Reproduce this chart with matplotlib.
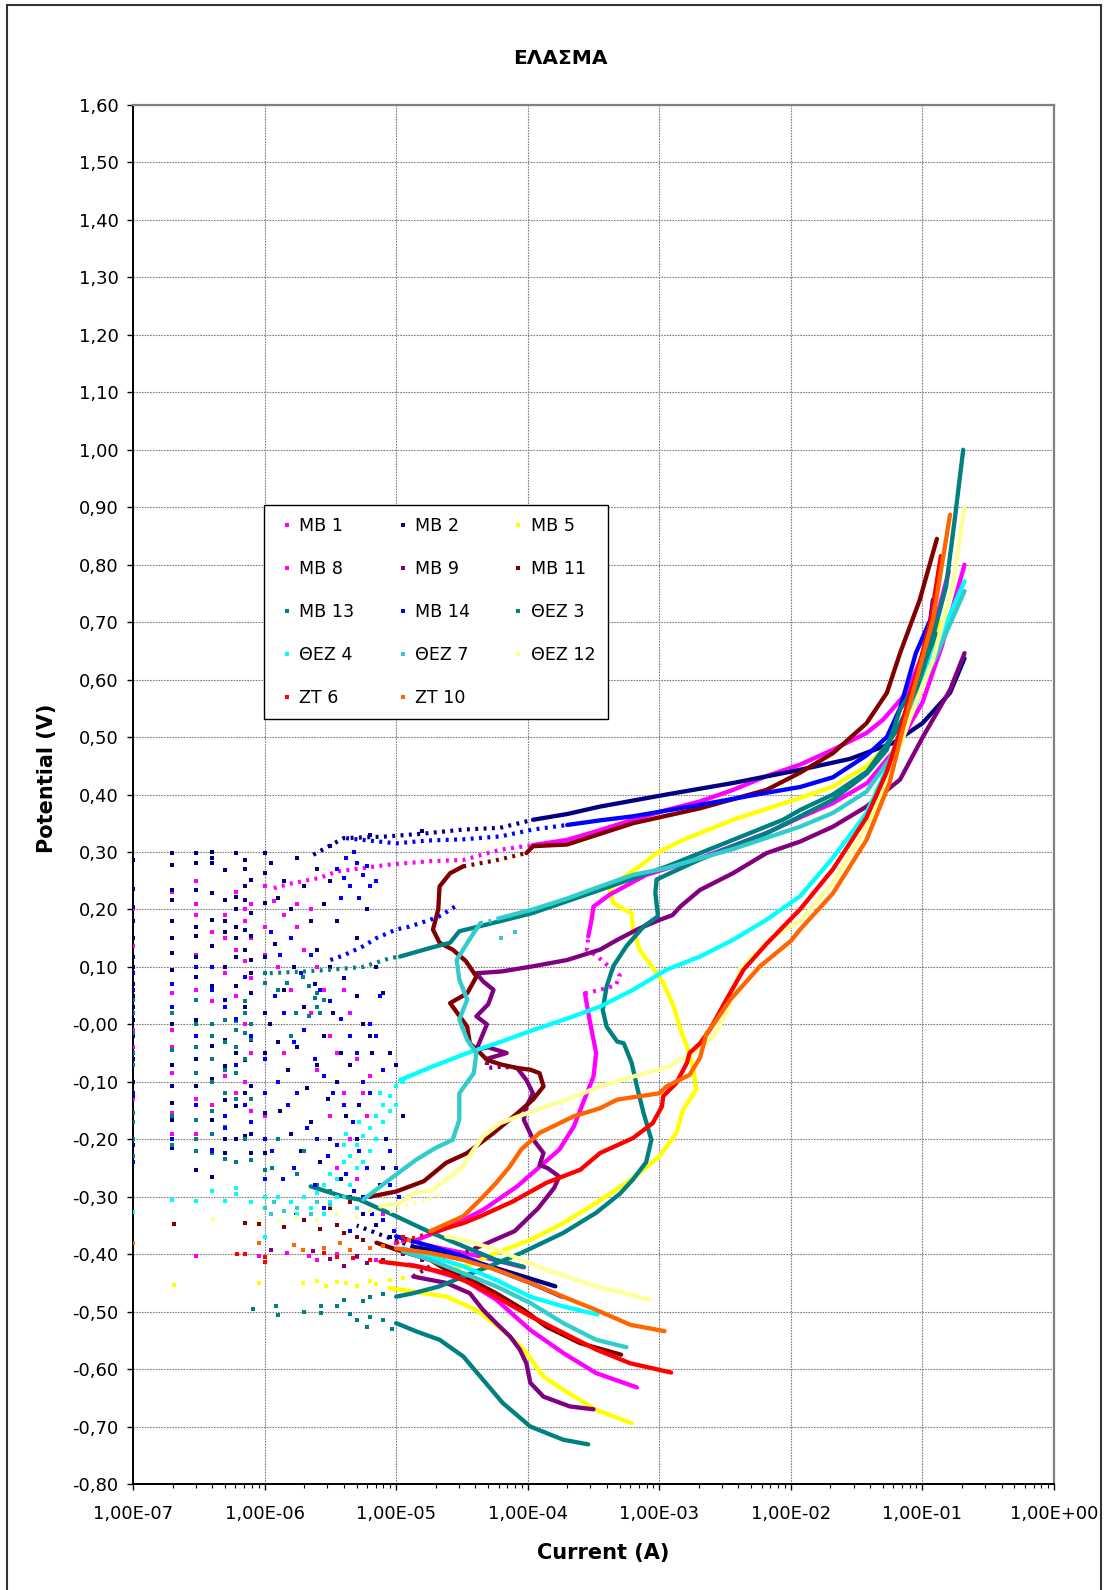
import numpy as np
import matplotlib
matplotlib.use("Agg")
import matplotlib.pyplot as plt
from matplotlib.lines import Line2D
from matplotlib.patches import Rectangle
from matplotlib.ticker import FixedLocator, FuncFormatter, LogLocator, NullFormatter

plt.rcParams["font.family"] = ["DejaVu Sans"]
plt.rcParams["axes.unicode_minus"] = False

TITLE = "ΕΛΑΣΜΑ"
X_LABEL = "Current (A)"
Y_LABEL = "Potential (V)"

# Points are (log10 of current in A, potential in V); None breaks a trace.

# ---------------- MB 1 ----------------
MB1_LINE = [(-4.03, -0.423), (-4.36, -0.404), (-4.74, -0.386), None,
            (-3.96, 0.312), (-3.70, 0.321), (-3.45, 0.338), (-3.20, 0.356), (-2.945, 0.373),
            (-2.69, 0.388), (-2.44, 0.408), (-2.185, 0.432), (-1.93, 0.452), (-1.68, 0.478),
            (-1.425, 0.507), (-1.30, 0.530), (-1.12, 0.577), (-0.97, 0.658), (-0.87, 0.727),
            (-0.80, 0.788)]
MB1_TRAIL = [(-4.74, -0.386), (-4.90, -0.378), (-5.05, -0.370), None,
             (-5.93, 0.237), (-5.80, 0.245), (-5.58, 0.255), (-5.45, 0.266), (-5.25, 0.272),
             (-5.05, 0.278), (-4.74, 0.284), (-4.49, 0.286), (-4.21, 0.304), (-3.96, 0.312)]
MB1_COLS = [(-7.0, [0.20, 0.136, 0.09, -0.01, -0.04, -0.13]),
            (-6.7, [0.23, 0.054, 0.02, -0.01, -0.04, -0.085, -0.155, -0.19]),
            (-6.52, [0.25, 0.21, 0.19, 0.12, 0.06, -0.06, -0.13, -0.19]),
            (-6.4, [0.16, 0.10, 0.04, -0.02, -0.10, -0.14]),
            (-6.3, [0.19, 0.15, 0.09, 0.03, -0.03, -0.09, -0.16]),
            (-6.22, [0.23, 0.17, 0.13, 0.05, -0.07, -0.12, -0.20]),
            (-6.15, [0.20, 0.18, 0.11, 0.0, -0.10]),
            (-6.1, [0.21, 0.15, 0.08, -0.05, -0.15]),
            (-6.0, [0.24, 0.17, 0.12, 0.02, -0.06, -0.12, -0.16])]
MB1_DOTS = [(-5.93, 0.215), (-5.85, 0.19), (-5.75, 0.17), (-5.70, 0.13), (-5.60, 0.10),
            (-5.55, 0.06), (-5.65, 0.02), (-5.50, -0.02), (-5.45, -0.05), (-5.60, -0.08),
            (-5.40, -0.12), (-5.50, -0.16), (-5.35, -0.20), (-5.45, -0.25), (-5.30, -0.27),
            (-5.20, -0.30), (-5.10, -0.33), (-5.80, 0.06), (-5.90, 0.10), (-5.85, -0.05),
            (-5.25, -0.12), (-5.20, -0.09), (-5.30, -0.06), (-5.75, 0.21), (-5.65, 0.20),
            (-5.15, -0.20), (-5.10, -0.25), (-5.22, -0.16), (-5.35, 0.02), (-5.40, 0.06)]

# ---------------- MB 2 ----------------
MB2_LINE = [(-3.79, -0.456), (-4.03, -0.439), (-4.36, -0.416), (-4.62, -0.398), (-4.87, -0.387), None,
            (-3.96, 0.356), (-3.70, 0.366), (-3.45, 0.379), (-2.945, 0.400), (-2.44, 0.420),
            (-1.93, 0.443), (-1.55, 0.462), (-1.22, 0.490), (-1.00, 0.524), (-0.79, 0.577),
            (-0.68, 0.637)]
MB2_TRAIL = [(-4.87, -0.387), (-5.12, -0.366), (-5.30, -0.350), None,
             (-5.63, 0.295), (-5.40, 0.324), (-5.07, 0.327), (-4.79, 0.332), (-4.49, 0.339),
             (-4.21, 0.342), (-3.96, 0.356)]
MB2_COLS = [(-7.0, [0.286, 0.235, 0.205, 0.18, 0.15, 0.118, 0.10, 0.07, 0.05, 0.03, 0.008,
                    -0.02, -0.06, -0.10, -0.125, -0.17, -0.21]),
            (-6.7, [0.298, 0.278, 0.234, 0.217, 0.18, 0.15, 0.124, 0.095, 0.07, 0.03, 0.0,
                    -0.044, -0.07, -0.108, -0.137, -0.166, -0.215]),
            (-6.52, [0.298, 0.28, 0.234, 0.17, 0.153, 0.118, 0.083, 0.043, 0.008, -0.06, -0.085,
                     -0.108, -0.166, -0.253]),
            (-6.4, [0.30, 0.29, 0.28, 0.228, 0.182, 0.136, 0.066, -0.038, -0.096, -0.166, -0.218, -0.265]),
            (-6.3, [0.269, 0.217, 0.18, 0.16, 0.10, 0.043, -0.027, -0.073, -0.131, -0.20, -0.224]),
            (-6.22, [0.298, 0.222, 0.20, 0.17, 0.15, 0.118, 0.066, 0.008, -0.05, -0.085, -0.143, -0.20]),
            (-6.15, [0.286, 0.27, 0.24, 0.217, 0.165, 0.13, 0.031, -0.062, -0.12, -0.195]),
            (-6.1, [0.252, 0.194, 0.153, 0.112, 0.089, 0.054, -0.027, -0.108, -0.19, -0.224]),
            (-6.0, [0.298, 0.263, 0.211, 0.118, 0.02, -0.05, -0.12, -0.155, -0.224, -0.253])]
MB2_DOTS = [(-5.95, 0.28), (-5.90, 0.22), (-5.85, 0.25), (-5.80, 0.20), (-5.75, 0.29), (-5.70, 0.24),
            (-5.65, 0.18), (-5.60, 0.13), (-5.55, 0.21), (-5.50, 0.10), (-5.92, 0.14), (-5.85, 0.06),
            (-5.78, 0.10), (-5.70, 0.03), (-5.62, 0.07), (-5.55, -0.02), (-5.48, 0.02), (-5.42, -0.05),
            (-5.90, -0.03), (-5.82, -0.08), (-5.75, -0.04), (-5.68, -0.11), (-5.60, -0.07), (-5.52, -0.13),
            (-5.45, -0.10), (-5.38, -0.16), (-5.30, -0.20), (-5.88, -0.15), (-5.80, -0.19), (-5.72, -0.22),
            (-5.65, -0.17), (-5.58, -0.24), (-5.50, -0.20), (-5.42, -0.27), (-5.35, -0.30), (-5.25, -0.33),
            (-5.15, -0.35), (-5.05, -0.37), (-5.96, 0.0), (-5.60, 0.27), (-5.50, 0.25), (-5.45, 0.18),
            (-5.10, 0.054), (-5.05, -0.05), (-5.00, -0.07), (-4.95, -0.16), (-5.10, -0.25), (-5.25, 0.0),
            (-5.30, 0.05), (-4.80, 0.336), (-5.20, 0.33), (-5.50, 0.31),
            (-5.20, -0.02), (-5.15, 0.10), (-5.08, -0.20), (-5.30, 0.15), (-5.22, 0.20), (-5.40, 0.08),
            (-5.12, -0.28), (-5.35, -0.07), (-5.28, -0.14), (-5.18, -0.05)]

# ---------------- MB 5 ----------------
MB5_LINE = [(-3.21, -0.694), (-3.48, -0.671), (-3.73, -0.636), (-3.88, -0.613), (-4.03, -0.566),
            (-4.19, -0.532), (-4.39, -0.497), (-4.62, -0.474), (-4.87, -0.465), (-5.05, -0.459), None,
            (-4.67, -0.433), (-4.44, -0.418), (-4.24, -0.398), (-3.98, -0.375), (-3.73, -0.346),
            (-3.48, -0.311), (-3.22, -0.271), (-3.00, -0.230), (-2.87, -0.189), (-2.82, -0.149),
            (-2.72, -0.114), (-2.74, -0.079), (-2.79, -0.038), (-2.84, -0.009), (-2.89, 0.031),
            (-2.97, 0.072), (-3.02, 0.089), (-3.15, 0.130), (-3.20, 0.165), (-3.21, 0.194),
            (-3.27, 0.200), (-3.35, 0.211), (-3.375, 0.234), (-3.30, 0.252), (-3.15, 0.275),
            (-3.02, 0.298), (-2.82, 0.321), (-2.44, 0.356), (-1.93, 0.394), (-1.68, 0.414),
            (-1.425, 0.449), (-1.27, 0.484), (-1.10, 0.550), (-0.95, 0.640), (-0.87, 0.700)]
MB5_DOTS = [(-6.69, -0.453), (-6.04, -0.451), (-5.71, -0.450), (-5.53, -0.455), (-5.45, -0.448),
            (-5.38, -0.450), (-5.30, -0.456), (-5.20, -0.446), (-5.15, -0.452), (-5.60, -0.447),
            (-5.05, -0.445), (-4.95, -0.442), (-4.85, -0.438)]

# ---------------- MB 8 ----------------
MB8_LINE = [(-3.17, -0.632), (-3.48, -0.607), (-3.73, -0.572), (-3.98, -0.532), (-4.24, -0.479),
            (-4.49, -0.444), (-4.74, -0.427), (-4.90, -0.418), None,
            (-4.84, -0.375), (-4.59, -0.352), (-4.34, -0.323), (-4.08, -0.282), (-3.88, -0.242),
            (-3.76, -0.218), (-3.65, -0.178), (-3.58, -0.137), (-3.50, -0.091), (-3.48, -0.050),
            (-3.53, 0.008), (-3.565, 0.054), None,
            (-3.54, 0.153), (-3.515, 0.182), (-3.50, 0.205), (-3.375, 0.226), (-3.10, 0.260),
            (-2.69, 0.289), (-2.185, 0.333), (-1.93, 0.360), (-1.68, 0.385), (-1.42, 0.420),
            (-1.20, 0.480), (-1.00, 0.560), (-0.85, 0.660), (-0.68, 0.800)]
MB8_TRAIL = [(-3.565, 0.054), (-3.45, 0.060), (-3.33, 0.068), (-3.30, 0.085), (-3.38, 0.100),
             (-3.48, 0.120), (-3.55, 0.130), (-3.54, 0.153)]
MB8_DOTS = [(-6.52, -0.403), (-6.04, -0.403), (-5.83, -0.398), (-5.66, -0.403), (-5.60, -0.410),
            (-5.45, -0.400), (-5.30, -0.405), (-5.15, -0.410), (-5.05, -0.415), (-5.00, -0.380),
            (-4.95, -0.377)]

# ---------------- MB 9 ----------------
MB9_LINE = [(-3.50, -0.670), (-3.68, -0.665), (-3.88, -0.648), (-3.98, -0.624), (-4.01, -0.590),
            (-4.06, -0.566), (-4.135, -0.543), (-4.24, -0.520), (-4.34, -0.497), (-4.44, -0.468),
            (-4.62, -0.450), (-4.87, -0.439), None,
            (-4.40, -0.390), (-4.10, -0.360), (-3.92, -0.320), (-3.80, -0.285), (-3.76, -0.265),
            (-3.85, -0.250), (-3.91, -0.245), (-3.88, -0.224), (-3.96, -0.200), (-4.03, -0.166),
            (-4.01, -0.143), (-3.96, -0.120), (-4.01, -0.097), (-4.08, -0.076), None,
            (-4.31, -0.060), (-4.16, -0.050), (-4.30, -0.040), (-4.39, -0.044), (-4.31, 0.0),
            (-4.39, 0.014), (-4.30, 0.035), (-4.26, 0.060), (-4.34, 0.075), (-4.39, 0.089),
            (-4.20, 0.092), (-3.96, 0.101), (-3.70, 0.112), (-3.45, 0.130), (-3.32, 0.147),
            (-3.15, 0.167), (-2.995, 0.182), (-2.90, 0.190), (-2.84, 0.205), (-2.69, 0.234),
            (-2.44, 0.263), (-2.185, 0.298), (-1.93, 0.318), (-1.68, 0.344), (-1.425, 0.379),
            (-1.17, 0.426), (-0.995, 0.501), (-0.79, 0.582), (-0.68, 0.646)]
MB9_TRAIL = [(-4.87, -0.439), (-4.70, -0.415), (-4.40, -0.390), None,
             (-4.08, -0.076), (-4.20, -0.074), (-4.31, -0.076), (-4.31, -0.060)]
MB9_DOTS = [(-5.95, -0.392), (-5.63, -0.395), (-5.50, -0.409), (-5.30, -0.404), (-5.22, -0.416),
            (-5.10, -0.410), (-4.95, -0.400), (-4.80, -0.410), (-4.60, -0.400), (-5.40, -0.420)]

# ---------------- MB 11 ----------------
MB11_LINE = [(-3.29, -0.575), (-3.60, -0.555), (-3.86, -0.526), (-4.03, -0.497), (-4.24, -0.468),
             (-4.44, -0.444), (-4.62, -0.427), (-4.74, -0.410), (-5.00, -0.392), (-5.15, -0.380), None,
             (-5.20, -0.300), (-5.00, -0.291), (-4.79, -0.273), (-4.62, -0.241), (-4.46, -0.224),
             (-4.26, -0.189), (-4.08, -0.155), (-3.96, -0.131), (-3.88, -0.108), (-3.91, -0.085),
             (-3.98, -0.079), (-4.08, -0.076), (-4.20, -0.070), (-4.31, -0.062), (-4.36, -0.050),
             (-4.44, -0.033), (-4.46, -0.004), (-4.59, 0.037), (-4.46, 0.054), (-4.39, 0.083),
             (-4.47, 0.110), (-4.57, 0.130), (-4.67, 0.142), (-4.72, 0.165), (-4.68, 0.200),
             (-4.67, 0.240), (-4.59, 0.263), (-4.49, 0.275), None,
             (-4.01, 0.298), (-3.96, 0.310), (-3.70, 0.313), (-3.20, 0.350), (-2.69, 0.376),
             (-2.185, 0.408), (-1.93, 0.438), (-1.68, 0.472), (-1.425, 0.524), (-1.27, 0.577),
             (-1.17, 0.646), (-1.02, 0.739), (-0.89, 0.845)]
MB11_TRAIL = [(-4.49, 0.275), (-4.25, 0.285), (-4.01, 0.298)]
MB11_DOTS = [(-6.69, -0.347), (-6.15, -0.345), (-6.04, -0.347), (-5.85, -0.352), (-5.76, -0.331),
             (-5.70, -0.340), (-5.58, -0.356), (-5.40, -0.363), (-5.30, -0.370), (-5.25, -0.375),
             (-5.45, -0.350), (-5.50, -0.320), (-5.35, -0.310)]

# ---------------- MB 13 ----------------
MB13_LINE = [(-4.03, -0.422), (-4.24, -0.410), (-4.44, -0.391), (-4.74, -0.362), (-5.00, -0.334),
             (-5.28, -0.305), (-5.40, -0.300), (-5.65, -0.282), None,
             (-4.97, 0.118), (-4.74, 0.133), (-4.59, 0.142), (-4.52, 0.162), (-4.20, 0.180),
             (-3.96, 0.194), (-3.45, 0.234), (-2.94, 0.275), (-2.44, 0.321), (-2.06, 0.356),
             (-1.93, 0.373), (-1.68, 0.400), (-1.42, 0.440), (-1.20, 0.510), (-1.00, 0.600),
             (-0.90, 0.680)]
MB13_TRAIL = [(-5.96, 0.089), (-5.70, 0.092), (-5.50, 0.095), (-5.25, 0.100), (-5.05, 0.115), (-4.97, 0.118)]
MB13_COLS = [(-7.0, [0.043, 0.02, -0.015, -0.05, -0.07, -0.155, -0.17, -0.20, -0.23]),
             (-6.7, [0.02, -0.045, -0.16, -0.21]),
             (-6.52, [0.043, 0.0, -0.04, -0.085, -0.166, -0.20, -0.22]),
             (-6.4, [0.0, -0.02, -0.06, -0.10, -0.15, -0.19, -0.224]),
             (-6.3, [0.03, 0.008, -0.03, -0.08, -0.12, -0.178, -0.235]),
             (-6.22, [0.005, -0.01, -0.04, -0.085, -0.13, -0.24]),
             (-6.15, [0.04, 0.02, -0.015, -0.06, -0.20]),
             (-6.1, [0.0, -0.025, -0.13, -0.236]),
             (-6.0, [0.09, 0.072, -0.06, -0.253])]
MB13_DOTS = [(-5.83, 0.072), (-5.71, 0.083), (-5.66, 0.066), (-5.60, 0.054), (-5.55, 0.043),
             (-5.60, 0.031), (-5.76, 0.020), (-5.66, 0.014), (-5.90, 0.060), (-5.80, -0.020),
             (-5.94, -0.250), (-5.75, -0.260), (-5.60, -0.280), (-5.50, -0.290), (-5.90, -0.200),
             (-5.70, -0.220), (-5.62, 0.045), (-5.58, 0.020)]

# ---------------- MB 14 ----------------
MB14_LINE = [(-3.74, -0.474), (-3.98, -0.450), (-4.24, -0.427), (-4.49, -0.404), (-4.74, -0.386),
             (-5.00, -0.369), None,
             (-3.70, 0.347), (-3.45, 0.355), (-3.20, 0.362), (-2.69, 0.382), (-2.185, 0.403),
             (-1.93, 0.413), (-1.68, 0.430), (-1.425, 0.468), (-1.27, 0.500), (-1.17, 0.550),
             (-1.05, 0.646), (-0.94, 0.704), (-0.92, 0.739)]
MB14_TRAIL = [(-5.38, 0.324), (-5.00, 0.315), (-4.75, 0.320), (-4.49, 0.322), (-4.21, 0.327),
              (-3.96, 0.339), (-3.70, 0.347), None,
              (-5.50, 0.112), (-5.40, 0.120), (-5.25, 0.136), (-5.15, 0.150), (-5.00, 0.165),
              (-4.90, 0.170), (-4.74, 0.182), (-4.65, 0.190), (-4.59, 0.200), (-4.55, 0.205)]
MB14_COLS = [(-7.0, [0.09, 0.06, -0.12, -0.24]),
             (-6.7, [0.07, 0.03, -0.20]),
             (-6.52, [0.10, -0.02, -0.14]),
             (-6.4, [0.10, 0.06, -0.22]),
             (-6.3, [0.03, -0.16, -0.18]),
             (-6.22, [0.01, -0.07]),
             (-6.15, [0.083, -0.14]),
             (-6.1, [-0.02, -0.17]),
             (-6.0, [-0.06, -0.12, -0.20, -0.27])]
MB14_DOTS = [(-5.95, 0.16), (-5.88, 0.12), (-5.80, 0.15), (-5.72, 0.09), (-5.65, 0.12), (-5.58, 0.06),
             (-5.50, 0.04), (-5.42, 0.01), (-5.35, -0.02), (-5.30, -0.05), (-5.25, -0.10), (-5.20, -0.12),
             (-5.92, 0.05), (-5.85, 0.02), (-5.78, -0.03), (-5.70, -0.01), (-5.62, -0.06), (-5.55, -0.09),
             (-5.48, -0.12), (-5.40, -0.14), (-5.33, -0.17), (-5.28, -0.22), (-5.22, -0.25), (-5.90, -0.10),
             (-5.82, -0.14), (-5.75, -0.12), (-5.68, -0.18), (-5.60, -0.20), (-5.52, -0.23), (-5.45, -0.21),
             (-5.38, -0.26), (-5.32, -0.29), (-5.25, -0.30), (-5.18, -0.33), (-5.10, -0.34), (-5.02, -0.36),
             (-5.94, -0.22), (-5.86, -0.27), (-5.78, -0.25), (-5.70, -0.30), (-5.62, -0.28), (-5.55, -0.32),
             (-5.45, -0.33), (-5.35, -0.36),
             (-5.45, 0.27), (-5.38, 0.29), (-5.30, 0.28), (-5.25, 0.26), (-5.20, 0.24), (-5.35, 0.24),
             (-5.42, 0.22), (-5.28, 0.22), (-5.22, 0.275), (-5.32, 0.30), (-5.15, 0.25), (-5.40, 0.255),
             (-5.15, -0.02), (-5.10, -0.08), (-5.05, -0.22), (-5.12, 0.05), (-5.20, 0.0), (-5.05, -0.28),
             (-4.98, -0.30), (-5.00, -0.25)]

# ---------------- ΘΕΖ 3 ----------------
TEZ3_LINE = [(-3.54, -0.731), (-3.73, -0.723), (-3.98, -0.700), (-4.19, -0.659), (-4.36, -0.613),
             (-4.49, -0.578), (-4.67, -0.549), (-4.84, -0.535), (-5.00, -0.520), None,
             (-5.00, -0.474), (-4.87, -0.468), (-4.67, -0.456), (-4.49, -0.439), (-4.29, -0.421),
             (-4.05, -0.398), (-3.73, -0.363), (-3.48, -0.328), (-3.30, -0.295), (-3.20, -0.270),
             (-3.10, -0.240), (-3.06, -0.201), (-3.12, -0.154), (-3.17, -0.108), (-3.21, -0.067),
             (-3.27, -0.033), (-3.32, -0.030), (-3.40, -0.004), (-3.43, 0.025), (-3.40, 0.066),
             (-3.35, 0.101), (-3.25, 0.136), (-3.12, 0.170), (-3.01, 0.188), (-3.03, 0.229),
             (-3.02, 0.252), (-2.89, 0.266), (-2.69, 0.287), (-2.44, 0.310), (-2.18, 0.333),
             (-1.93, 0.362), (-1.68, 0.391), (-1.42, 0.437), (-1.27, 0.478), (-1.17, 0.548),
             (-1.045, 0.594), (-0.92, 0.675), (-0.82, 0.762), (-0.755, 0.878), (-0.69, 1.000)]
TEZ3_DOTS = [(-5.10, -0.515), (-5.20, -0.510), (-5.25, -0.482), (-5.35, -0.505), (-5.45, -0.490),
             (-5.57, -0.491), (-5.57, -0.502), (-5.70, -0.500), (-5.91, -0.491), (-5.90, -0.506),
             (-6.09, -0.496), (-5.30, -0.514), (-5.22, -0.526), (-5.10, -0.470), (-5.20, -0.475),
             (-5.40, -0.480), (-5.03, -0.530)]

# ---------------- ΘΕΖ 4 ----------------
TEZ4_LINE = [(-3.47, -0.505), (-3.73, -0.491), (-3.98, -0.474), (-4.24, -0.445), (-4.49, -0.421),
             (-4.74, -0.404), (-4.95, -0.390), None,
             (-4.97, -0.097), (-4.72, -0.073), (-4.46, -0.050), (-4.20, -0.030), (-3.96, -0.010),
             (-3.70, 0.010), (-3.45, 0.031), (-3.20, 0.060), (-2.945, 0.095), (-2.69, 0.118),
             (-2.44, 0.147), (-2.185, 0.182), (-1.93, 0.223), (-1.68, 0.290), (-1.425, 0.368),
             (-1.30, 0.430), (-1.045, 0.559), (-0.92, 0.646), (-0.68, 0.771)]
TEZ4_COLS = [(-7.0, [-0.326]), (-6.7, [-0.305]), (-6.52, [-0.307]), (-6.4, [-0.290]),
             (-6.3, [-0.308]), (-6.22, [-0.285, -0.295]), (-6.1, [-0.310]), (-6.0, [-0.300, -0.370])]
TEZ4_DOTS = [(-5.60, -0.294), (-5.55, -0.280), (-5.50, -0.260), (-5.45, -0.270), (-5.40, -0.240),
             (-5.35, -0.230), (-5.30, -0.210), (-5.25, -0.195), (-5.20, -0.180), (-5.15, -0.160),
             (-5.10, -0.140), (-5.05, -0.125), (-5.00, -0.108), (-4.95, -0.100), (-5.20, -0.220),
             (-5.30, -0.250), (-5.10, -0.170), (-5.45, -0.300), (-5.35, -0.280), (-5.15, -0.200),
             (-5.05, -0.150), (-5.25, -0.240), (-5.00, -0.140), (-4.90, -0.090), (-5.50, -0.310),
             (-5.70, -0.300), (-5.80, -0.310), (-5.90, -0.300), (-5.65, -0.320), (-5.55, -0.330),
             (-5.75, -0.330), (-5.40, -0.210), (-5.28, -0.170), (-5.12, -0.120), (-5.38, -0.190)]

# ---------------- ΘΕΖ 7 ----------------
TEZ7_LINE = [(-3.25, -0.562), (-3.48, -0.549), (-3.73, -0.520), (-3.98, -0.485), (-4.24, -0.456),
             (-4.49, -0.433), (-4.74, -0.410), (-4.95, -0.395), None,
             (-5.25, -0.305), (-5.05, -0.270), (-4.85, -0.236), (-4.70, -0.215), (-4.57, -0.201),
             (-4.52, -0.166), (-4.52, -0.120), (-4.41, -0.085), (-4.39, -0.050), (-4.46, -0.027),
             (-4.52, 0.008), (-4.46, 0.043), (-4.52, 0.078), (-4.54, 0.112), (-4.45, 0.145),
             (-4.41, 0.159), (-4.36, 0.176), None,
             (-4.21, 0.185), (-3.96, 0.200), (-3.70, 0.219), (-3.45, 0.240), (-3.20, 0.260),
             (-2.945, 0.272), (-2.69, 0.289), (-2.44, 0.305), (-1.93, 0.344), (-1.68, 0.368),
             (-1.425, 0.405), (-1.25, 0.461), (-1.12, 0.530), (-0.92, 0.629), (-0.68, 0.754)]
TEZ7_TRAIL = [(-4.36, 0.176), (-4.28, 0.180), (-4.21, 0.185)]
TEZ7_DOTS = [(-5.93, -0.310), (-5.85, -0.325), (-5.75, -0.320), (-5.65, -0.330), (-5.60, -0.310),
             (-5.50, -0.315), (-5.40, -0.300), (-5.95, -0.330), (-6.00, -0.320), (-5.30, -0.320),
             (-4.20, 0.150), (-4.10, 0.160)]

# ---------------- ΘΕΖ 12 ----------------
TEZ12_LINE = [(-3.07, -0.479), (-3.48, -0.456), (-3.86, -0.427), (-4.24, -0.392), (-4.49, -0.375),
              (-4.62, -0.369), None,
              (-5.12, -0.317), (-4.97, -0.311), (-4.87, -0.294), (-4.72, -0.288), (-4.62, -0.270),
              (-4.49, -0.247), (-4.41, -0.218), (-4.34, -0.195), (-4.21, -0.172), (-4.01, -0.155),
              (-3.70, -0.131), (-3.45, -0.108), (-3.20, -0.091), (-2.945, -0.075), (-2.79, -0.056),
              (-2.74, -0.050), (-2.59, -0.021), (-2.49, 0.020), (-2.44, 0.054), (-2.39, 0.095),
              (-2.29, 0.118), (-2.13, 0.153), (-1.93, 0.180), (-1.68, 0.246), (-1.425, 0.344),
              (-1.25, 0.431), (-1.10, 0.530), (-0.98, 0.600), (-0.92, 0.635), (-0.77, 0.762),
              (-0.68, 0.900)]
TEZ12_TRAIL = [(-5.05, -0.326), (-4.87, -0.311), (-4.64, -0.296)]
TEZ12_DOTS = [(-6.39, -0.339), (-6.04, -0.340), (-5.88, -0.343), (-5.76, -0.335), (-5.60, -0.340),
              (-5.45, -0.330), (-5.30, -0.335), (-5.20, -0.325)]

# ---------------- ZT 6 ----------------
ZT6_LINE = [(-2.91, -0.606), (-3.22, -0.590), (-3.48, -0.566), (-3.73, -0.537), (-3.98, -0.508),
            (-4.24, -0.474), (-4.44, -0.450), (-4.62, -0.433), (-4.84, -0.421), (-5.12, -0.413), None,
            (-4.74, -0.363), (-4.49, -0.346), (-4.36, -0.334), (-4.11, -0.308), (-3.86, -0.276),
            (-3.60, -0.253), (-3.45, -0.224), (-3.20, -0.198), (-3.05, -0.172), (-2.98, -0.143),
            (-2.97, -0.125), (-2.87, -0.102), (-2.79, -0.067), (-2.77, -0.050), (-2.69, -0.033),
            (-2.615, -0.009), (-2.49, 0.043), (-2.36, 0.095), (-2.185, 0.140), (-1.93, 0.200),
            (-1.68, 0.270), (-1.425, 0.360), (-1.27, 0.440), (-1.17, 0.510), (-1.10, 0.570),
            (-1.03, 0.620), (-0.94, 0.700), (-0.86, 0.815)]
ZT6_TRAIL = [(-5.00, -0.380), (-4.87, -0.372), (-4.74, -0.363)]
ZT6_DOTS = [(-6.21, -0.399), (-6.15, -0.400), (-6.00, -0.405), (-6.00, -0.413), (-5.55, -0.398),
            (-5.45, -0.405), (-5.33, -0.407), (-5.20, -0.410), (-4.95, -0.370), (-5.10, -0.385)]

# ---------------- ZT 10 ----------------
ZT10_LINE = [(-2.96, -0.534), (-3.22, -0.523), (-3.48, -0.497), (-3.73, -0.474), (-3.98, -0.450),
             (-4.24, -0.427), (-4.49, -0.410), (-4.74, -0.398), (-5.00, -0.390), None,
             (-4.74, -0.360), (-4.49, -0.334), (-4.36, -0.305), (-4.24, -0.276), (-4.135, -0.247),
             (-4.05, -0.218), (-3.91, -0.189), (-3.65, -0.160), (-3.45, -0.146), (-3.32, -0.131),
             (-3.00, -0.120), (-2.945, -0.108), (-2.77, -0.088), (-2.69, -0.058), (-2.64, -0.015),
             (-2.615, -0.009), (-2.46, 0.043), (-2.235, 0.101), (-2.00, 0.145), (-1.93, 0.165),
             (-1.68, 0.228), (-1.425, 0.321), (-1.25, 0.420), (-1.15, 0.513), (-1.045, 0.600),
             (-0.92, 0.704), (-0.79, 0.887)]
ZT10_DOTS = [(-7.00, -0.381), (-6.04, -0.381), (-5.78, -0.384), (-5.71, -0.392), (-5.55, -0.390),
             (-5.43, -0.381), (-5.35, -0.392), (-5.20, -0.390), (-5.10, -0.385), (-4.90, -0.375)]

LABELS = ["MB 1", "MB 2", "MB 5", "MB 8", "MB 9", "MB 11", "MB 13", "MB 14",
          "ΘΕΖ 3", "ΘΕΖ 4", "ΘΕΖ 7", "ΘΕΖ 12", "ZT 6", "ZT 10"]
COLORS = ["#FF00FF", "#000080", "#FFFF00", "#FF00FF", "#800080", "#800000", "#008080",
          "#0000FF", "#008080", "#00FFFF", "#33CCCC", "#FFFF99", "#FF0000", "#FF6600"]
X_TICKS = [1e-7, 1e-6, 1e-5, 1e-4, 1e-3, 1e-2, 1e-1, 1e0]

SERIES = [
    (MB1_LINE, MB1_TRAIL, MB1_COLS, MB1_DOTS),
    (MB2_LINE, MB2_TRAIL, MB2_COLS, MB2_DOTS),
    (MB5_LINE, [], [], MB5_DOTS),
    (MB8_LINE, MB8_TRAIL, [], MB8_DOTS),
    (MB9_LINE, MB9_TRAIL, [], MB9_DOTS),
    (MB11_LINE, MB11_TRAIL, [], MB11_DOTS),
    (MB13_LINE, MB13_TRAIL, MB13_COLS, MB13_DOTS),
    (MB14_LINE, MB14_TRAIL, MB14_COLS, MB14_DOTS),
    (TEZ3_LINE, [], [], TEZ3_DOTS),
    (TEZ4_LINE, [], TEZ4_COLS, TEZ4_DOTS),
    (TEZ7_LINE, TEZ7_TRAIL, [], TEZ7_DOTS),
    (TEZ12_LINE, TEZ12_TRAIL, [], TEZ12_DOTS),
    (ZT6_LINE, ZT6_TRAIL, [], ZT6_DOTS),
    (ZT10_LINE, [], [], ZT10_DOTS),
]


def to_xy(points):
    xs, ys = [], []
    for p in points:
        if p is None:
            xs.append(np.nan)
            ys.append(np.nan)
        else:
            xs.append(10.0 ** p[0])
            ys.append(p[1])
    return np.array(xs), np.array(ys)


def columns_to_points(cols):
    pts = []
    for logi, volts in cols:
        pts.extend((logi, v) for v in volts)
    return pts


W, H = 1104, 1590
fig = plt.figure(figsize=(W / 100, H / 100), dpi=100)
fig.patch.set_facecolor("white")

# chart-area border
fig.add_artist(Rectangle((7 / W, -0.02), (1101 - 7) / W, (H - 5) / H + 0.02,
                         transform=fig.transFigure, fill=False, edgecolor="#333333",
                         linewidth=1.5, zorder=0))

ax = fig.add_axes([133 / W, 1 - 1484 / H, (1054 - 133) / W, (1484 - 105) / H])
ax.set_xscale("log")
ax.set_xlim(1e-7, 1.0)
ax.set_ylim(-0.8, 1.6)

for k, (line, trail, cols, dots) in enumerate(SERIES):
    c = COLORS[k]
    z = 3 + k * 0.1
    if line:
        x, y = to_xy(line)
        ax.plot(x, y, color=c, lw=3.1, solid_capstyle="round", solid_joinstyle="round", zorder=z)
    if trail:
        x, y = to_xy(trail)
        ax.plot(x, y, color=c, lw=3.0, linestyle=(0, (0.7, 1.3)), dash_capstyle="butt", zorder=z)
    pts = columns_to_points(cols) + list(dots)
    if pts:
        x, y = to_xy(pts)
        ax.plot(x, y, linestyle="none", marker="s", markersize=3.2, markeredgewidth=0,
                color=c, zorder=z)

# axes styling
yt = np.round(np.arange(-0.8, 1.6001, 0.1), 2)
ax.yaxis.set_major_locator(FixedLocator(yt))
ax.yaxis.set_major_formatter(FuncFormatter(lambda v, _: f"{v:.2f}".replace(".", ",")))
ax.xaxis.set_major_locator(FixedLocator(X_TICKS))
ax.xaxis.set_minor_locator(LogLocator(base=10, subs=np.arange(2, 10), numticks=100))
ax.xaxis.set_minor_formatter(NullFormatter())
ax.xaxis.set_major_formatter(FuncFormatter(lambda v, _: f"{v:.2E}".replace(".", ",")))

ax.tick_params(axis="y", which="major", direction="out", length=4.5, width=1.0, pad=6,
               labelsize=13, colors="black")
ax.tick_params(axis="x", which="major", direction="out", length=4.5, width=1.0, pad=10.5,
               labelsize=13, colors="black")
ax.tick_params(axis="x", which="minor", direction="out", length=3.0, width=0.8)

ax.grid(True, which="major", color="#808080", linewidth=0.8, linestyle=(0, (1.5, 1.0)), zorder=1)
ax.set_axisbelow(True)
for side in ("top", "right"):
    ax.spines[side].set_color("#808080")
    ax.spines[side].set_linewidth(1.6)
for side in ("left", "bottom"):
    ax.spines[side].set_color("black")
    ax.spines[side].set_linewidth(1.4)

# titles
fig.text(560 / W, 1 - 58 / H, TITLE, ha="center", va="center", fontsize=14.5, fontweight="bold")
fig.text(603 / W, 1 - 1553 / H, X_LABEL, ha="center", va="center", fontsize=15, fontweight="bold")
fig.text(47 / W, 1 - 778 / H, Y_LABEL, ha="center", va="center", rotation=90,
         fontsize=15, fontweight="bold")

# legend, three columns filled row by row
handles = [Line2D([], [], linestyle="none", marker="s", markersize=3.5, markeredgewidth=0, color=c)
           for c in COLORS]
order = [0, 3, 6, 9, 12, 1, 4, 7, 10, 13, 2, 5, 8, 11]
leg = ax.legend([handles[i] for i in order], [LABELS[i] for i in order], ncol=3,
                loc="upper left", bbox_to_anchor=(264 / W, 1 - 505 / H),
                bbox_transform=fig.transFigure, borderaxespad=0, fontsize=12.6,
                frameon=True, fancybox=False, shadow=False, framealpha=1,
                borderpad=0.7, handlelength=1.2, handletextpad=0.12,
                columnspacing=2.15, labelspacing=1.42)
leg.get_frame().set_edgecolor("black")
leg.get_frame().set_linewidth(1.0)
leg.set_zorder(10)

fig.savefig("out.png", dpi=100, facecolor="white")
